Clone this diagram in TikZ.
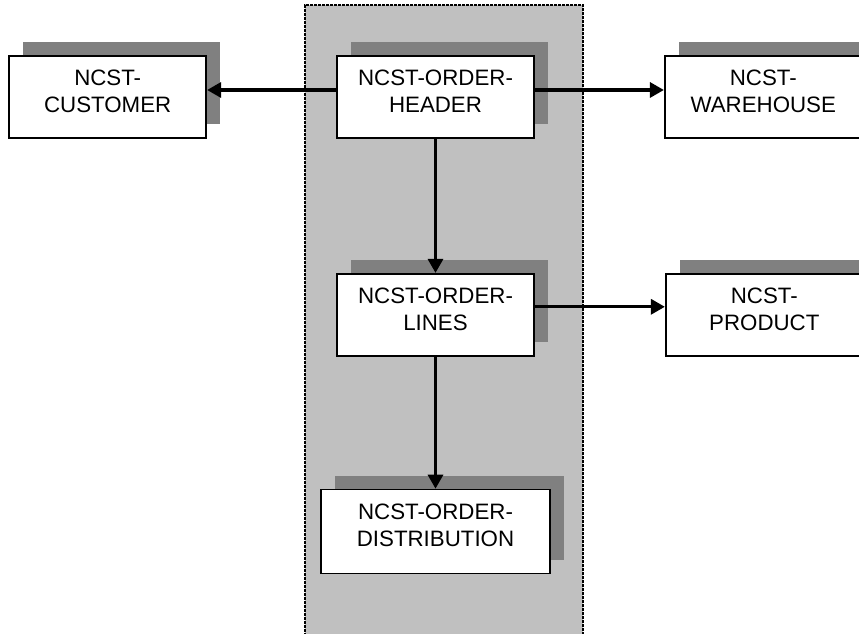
\documentclass[tikz,border=0pt]{standalone}
\usepackage{fontspec}
\setmainfont{Liberation Sans}
\usetikzlibrary{arrows.meta,positioning,shadows}
\definecolor{colgray}{HTML}{C0C0C0}
\definecolor{shadegray}{HTML}{808080}

\begin{document}
\begin{tikzpicture}[x=1pt,y=1pt,node distance=134pt and 129pt,
  tbl/.style={rectangle,draw,line width=1.8pt,fill=white,align=center,
              minimum width=197pt,inner xsep=0pt,inner ysep=0pt,
              text height=57pt,text depth=25pt,
              font=\fontsize{22.3}{27}\selectfont,
              general shadow={fill=shadegray,shadow xshift=14pt,shadow yshift=14pt}},
  rel/.style={-{Triangle[length=14pt,width=15pt]},line width=3.2pt}]
\useasboundingbox (0,0) rectangle (859,634);
\clip (0,0) rectangle (859,634);
\draw[fill=colgray,line width=2.6pt,dash pattern=on 3pt off 1pt]
  (305,-10) rectangle (583,629);
\node[tbl] (header) at (435.5,537) {NCST-ORDER-\\HEADER};
\node[tbl,left=of header]  (customer)  {NCST-\\CUSTOMER};
\node[tbl,right=of header] (warehouse) {NCST-\\WAREHOUSE};
\node[tbl,below=of header] (lines) {NCST-ORDER-\\LINES};
\node[tbl,right=130pt of lines] (product) {NCST-\\PRODUCT};
\node[tbl,minimum width=229pt,text depth=27pt,below=132pt of lines]
  (distribution) {NCST-ORDER-\\DISTRIBUTION};
\draw[rel] ([yshift=7pt]header.west) -- ([yshift=7pt]customer.east);
\draw[rel] ([yshift=7pt]header.east) -- ([yshift=7pt]warehouse.west);
\draw[rel] (header) -- (lines);
\draw[rel] ([yshift=8pt]lines.east) -- ([yshift=8pt]product.west);
\draw[rel] (lines) -- (distribution);
\end{tikzpicture}
\end{document}
